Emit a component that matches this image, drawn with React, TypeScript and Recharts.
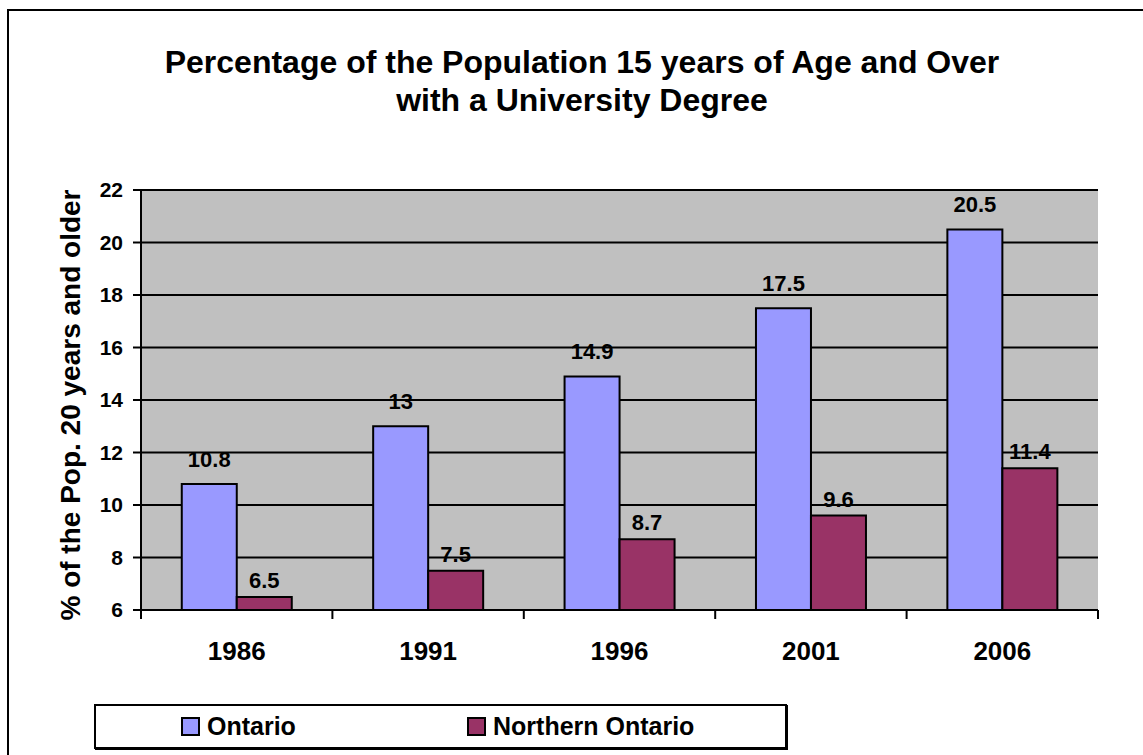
import React from 'react';
import { BarChart, Bar, XAxis, YAxis, CartesianGrid, LabelList } from 'recharts';

const categories = ['1986', '1991', '1996', '2001', '2006'];
const ontario = [10.8, 13, 14.9, 17.5, 20.5];
const northernOntario = [6.5, 7.5, 8.7, 9.6, 11.4];
const yTicks = [6, 8, 10, 12, 14, 16, 18, 20, 22];

const series = [
  { key: 'ontario', name: 'Ontario', color: '#9999ff', labelOffset: 17 },
  { key: 'northern', name: 'Northern Ontario', color: '#993366', labelOffset: 9 },
];

const data = categories.map((year, i) => ({
  year,
  ontario: ontario[i],
  northern: northernOntario[i],
}));

const FONT = '"Liberation Sans", Arial, Helvetica, sans-serif';
const W = 1143;
const H = 755;
const M = { top: 190, right: 45, bottom: 105, left: 81 };
const PLOT_W = W - M.left - 60 - M.right;
const BAND = PLOT_W / categories.length;

const XTick = (props: any) => {
  const { x, y, payload } = props;
  const half = BAND / 2;
  const last = payload.value === categories[categories.length - 1];
  return (
    <g>
      <line x1={x - half} x2={x - half} y1={y} y2={y + 9} stroke="#000" strokeWidth={2} />
      {last && <line x1={x + half} x2={x + half} y1={y} y2={y + 9} stroke="#000" strokeWidth={2} />}
      <text x={x} y={y + 50} textAnchor="middle" fontFamily={FONT} fontWeight="bold" fontSize={26} fill="#000">
        {payload.value}
      </text>
    </g>
  );
};

export default function App() {
  return (
    <div style={{ position: 'absolute', left: 0, top: 0, width: W, height: H, overflow: 'hidden', background: '#fff', fontFamily: FONT }}>
      {/* outer chart frame, runs off the right and bottom */}
      <div style={{ position: 'absolute', left: 7, top: 9, width: 1300, height: 900, borderLeft: '2px solid #000', borderTop: '2px solid #000' }} />

      <div style={{ position: 'absolute', left: 0, top: 43, width: 1164, textAlign: 'center', fontWeight: 'bold', fontSize: 32, lineHeight: '38px', color: '#000' }}>
        Percentage of the Population 15 years of Age and Over
        <br />
        with a University Degree
      </div>

      <div style={{ position: 'absolute', left: 71, top: 405, transform: 'translate(-50%, -50%) rotate(-90deg)', whiteSpace: 'nowrap', fontWeight: 'bold', fontSize: 28, color: '#000' }}>
        % of the Pop. 20 years and older
      </div>

      <div style={{ position: 'absolute', left: 0, top: 0 }}>
        <BarChart width={W} height={H} data={data} margin={M} barCategoryGap="21.3%" barGap={0}>
          <CartesianGrid vertical={false} stroke="#000" strokeWidth={2} fill="#c0c0c0" fillOpacity={1} />
          <XAxis
            dataKey="year"
            height={40}
            interval={0}
            tickLine={false}
            tickSize={0}
            tickMargin={0}
            axisLine={{ stroke: '#000', strokeWidth: 2 }}
            tick={<XTick />}
          />
          <XAxis xAxisId="top" dataKey="year" orientation="top" height={0} tick={false} tickLine={false} axisLine={{ stroke: '#808080', strokeWidth: 2 }} />
          <YAxis
            domain={[6, 22]}
            ticks={yTicks}
            width={60}
            interval={0}
            tickSize={8}
            tickMargin={10}
            tickLine={{ stroke: '#000', strokeWidth: 2 }}
            axisLine={{ stroke: '#000', strokeWidth: 2 }}
            tick={{ fill: '#000', fontSize: 21, fontWeight: 'bold', fontFamily: FONT }}
          />
          <YAxis yAxisId="right" orientation="right" domain={[6, 22]} width={0} tick={false} tickLine={false} axisLine={{ stroke: '#808080', strokeWidth: 2 }} />
          {series.map((s) => (
            <Bar key={s.key} dataKey={s.key} name={s.name} fill={s.color} stroke="#000" strokeWidth={2} isAnimationActive={false}>
              <LabelList
                dataKey={s.key}
                position="top"
                offset={s.labelOffset}
                fill="#000"
                fontSize={22}
                fontWeight="bold"
                fontFamily={FONT}
              />
            </Bar>
          ))}
        </BarChart>
      </div>

      <div style={{ position: 'absolute', left: 94, top: 704, width: 693, height: 45, boxSizing: 'border-box', border: '2px solid #000', boxShadow: '1px 1px 0 #000', background: '#fff' }}>
        {series.map((s, i) => (
          <div key={s.key} style={{ position: 'absolute', left: i === 0 ? 85 : 371, top: 0, height: 41, display: 'flex', alignItems: 'center', fontWeight: 'bold', fontSize: 25, color: '#000' }}>
            <span style={{ display: 'inline-block', width: 19, height: 19, boxSizing: 'border-box', background: s.color, border: '2px solid #000', marginRight: 7 }} />
            {s.name}
          </div>
        ))}
      </div>
    </div>
  );
}
